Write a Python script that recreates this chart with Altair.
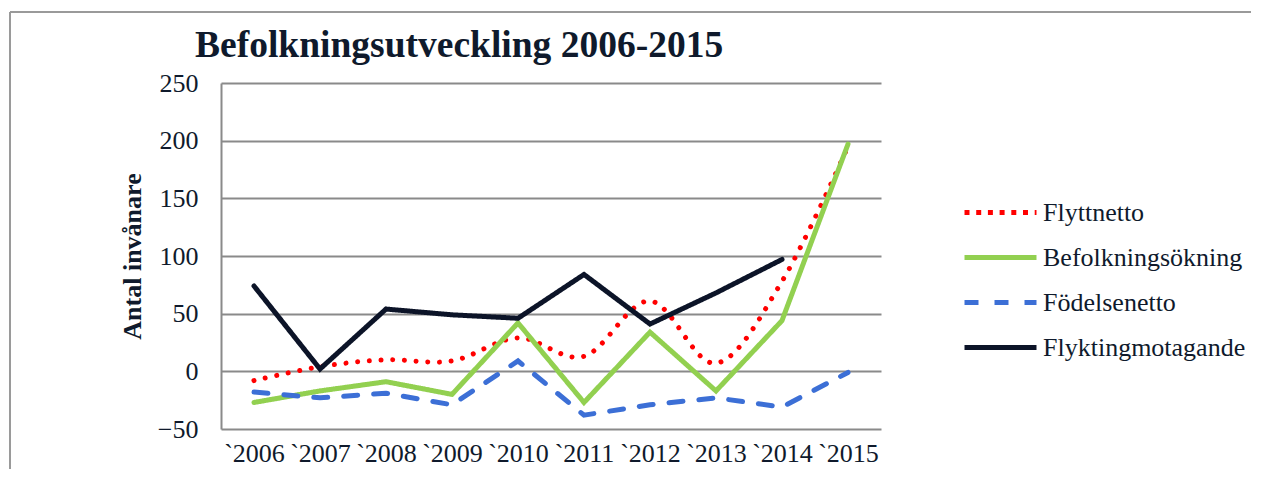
import altair as alt
import pandas as pd

years = ["`2006", "`2007", "`2008", "`2009", "`2010", "`2011", "`2012", "`2013", "`2014", "`2015"]
series_names = ["Flyttnetto", "Befolkningsökning", "Födelsenetto", "Flyktingmotagande"]
flyttnetto = [-8, 4, 10, 9, 29, 13, 61, 7, 78, 195]
befolkningsokning = [-27, -17, -9, -20, 42, -27, 34, -17, 44, 197]
fodelsenetto = [-18, -23, -19, -29, 9, -38, -29, -23, -31, -1]
flyktingmotagande = [74, 2, 54, 49, 46, 84, 41, 68, 97, None]
title_text = "Befolkningsutveckling 2006-2015"

colors = ["#FF0000", "#92D050", "#3C6FD6", "#0C1428"]
# first entry is used by the legend swatch only; the dotted line itself sets its own dash
dashes = [[5, 6.7], [1, 0], [14, 16], [1, 0]]

rows = []
for name, vals in zip(series_names, [flyttnetto, befolkningsokning, fodelsenetto, flyktingmotagande]):
    for y, v in zip(years, vals):
        if v is not None:
            rows.append({"year": y, "series": name, "value": v})
df = pd.DataFrame(rows)

FONT = "Liberation Serif"
TXT = "#0F1A2C"
GRID = "#8A8A8A"


def make_legend():
    return alt.Legend(title=None, orient="none", legendX=741, legendY=107,
                      symbolType="stroke", symbolSize=5184, symbolStrokeWidth=5,
                      labelFontSize=26, labelFont=FONT, labelColor=TXT, labelLimit=400,
                      labelOffset=4, rowPadding=0, clipHeight=45)


x_enc = alt.X("year:N", sort=years, title=None,
              axis=alt.Axis(labelAngle=0, labelFontSize=26, labelFont=FONT, labelColor=TXT,
                            labelPadding=11, ticks=False, domain=False, grid=False))
y_enc = alt.Y("value:Q", title="Antal invånare",
              scale=alt.Scale(domain=[-50, 250], nice=False, zero=False),
              axis=alt.Axis(values=[-50, 0, 50, 100, 150, 200, 250], labelFontSize=26, labelFont=FONT,
                            labelColor=TXT, labelPadding=23, ticks=False, domainColor=GRID,
                            domainWidth=2, gridColor=GRID, gridWidth=2,
                            titleFont=FONT, titleFontSize=26, titleFontWeight="bold",
                            titleColor=TXT, titlePadding=12))
color_enc = alt.Color("series:N", scale=alt.Scale(domain=series_names, range=colors),
                      legend=make_legend())
dash_enc = alt.StrokeDash("series:N", scale=alt.Scale(domain=series_names, range=dashes),
                          legend=make_legend())

base = alt.Chart(df)
red = base.transform_filter(alt.datum.series == "Flyttnetto").mark_line(
    interpolate="cardinal", strokeWidth=5, strokeCap="round", strokeDash=[0.01, 11.7]
).encode(x=x_enc, y=y_enc, color=color_enc)
others = base.transform_filter(alt.datum.series != "Flyttnetto").mark_line(
    strokeWidth=5, strokeCap="round"
).encode(x=x_enc, y=y_enc, color=color_enc, strokeDash=dash_enc, order=alt.Order("year:N"))

frame_df = pd.DataFrame({"k": [0]})
top_border = alt.Chart(frame_df).mark_rule(color="#9A9A9A", strokeWidth=2).encode(
    x=alt.value(-211), x2=alt.value(1100), y=alt.value(-71))
left_border = alt.Chart(frame_df).mark_rule(color="#9A9A9A", strokeWidth=2).encode(
    x=alt.value(-211), y=alt.value(-71), y2=alt.value(420))
title = alt.Chart(frame_df).mark_text(
    text=title_text, align="left", baseline="alphabetic", fontSize=37.5,
    font=FONT, fontWeight="bold", color=TXT
).encode(x=alt.value(-26), y=alt.value(-26))

chart = alt.layer(top_border, left_border, title, red, others).properties(
    width=660, height=346,
    autosize=alt.AutoSizeParams(type="none"),
    padding={"left": 213, "top": 75, "right": 370, "bottom": 40},
).configure_view(stroke=None)

chart.save("out.html", embed_options={"renderer": "svg", "actions": False})
